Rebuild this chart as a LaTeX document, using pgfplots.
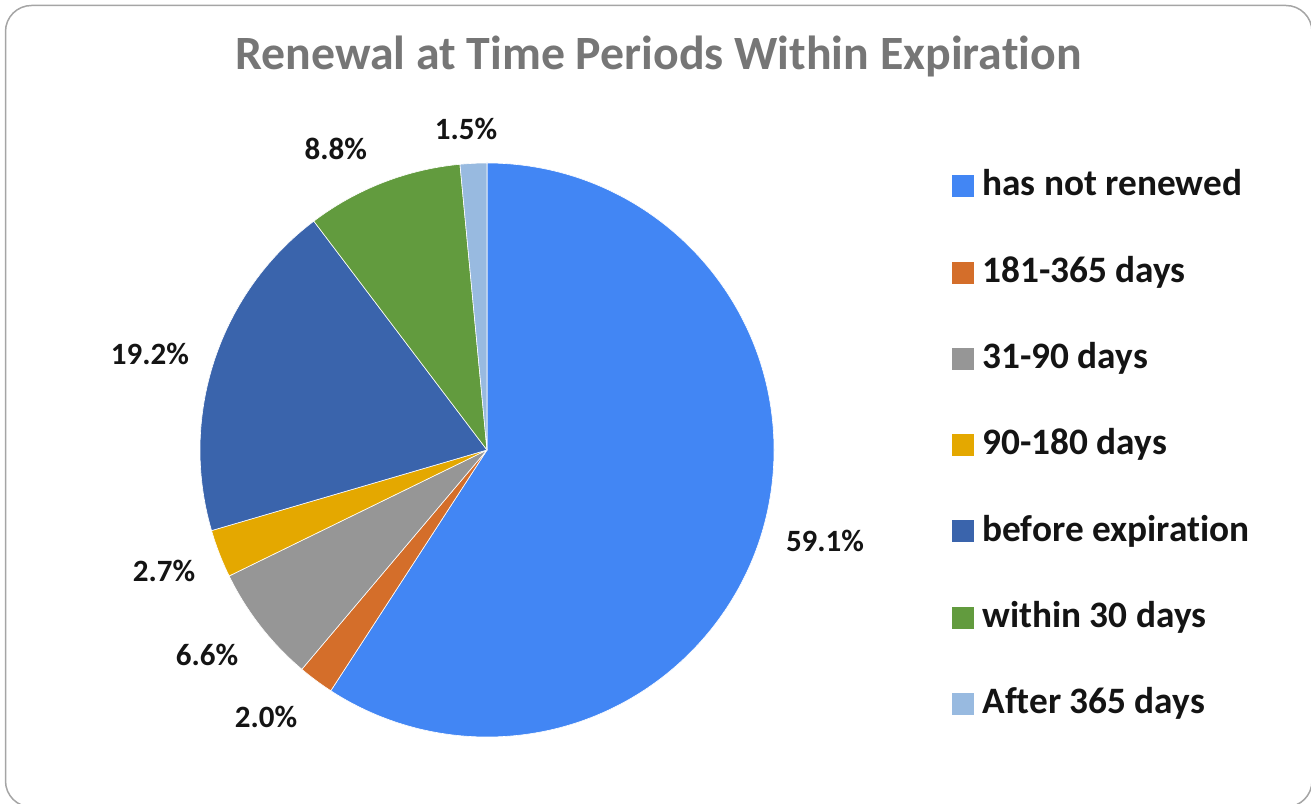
\documentclass[border=0pt]{standalone}
\usepackage{pgfplots}
\pgfplotsset{compat=1.18}
\usepackage{pgfplotstable}
\usepackage{fontspec}
\setmainfont{Carlito}[Ligatures=NoCommon]
\definecolor{cA}{RGB}{66,134,244}
\definecolor{cB}{RGB}{212,110,42}
\definecolor{cC}{RGB}{150,150,150}
\definecolor{cD}{RGB}{228,168,0}
\definecolor{cE}{RGB}{58,100,172}
\definecolor{cF}{RGB}{98,155,62}
\definecolor{cG}{RGB}{152,186,224}
\definecolor{titlegray}{RGB}{118,118,118}
\definecolor{bordergray}{RGB}{165,165,165}
\definecolor{txt}{RGB}{20,20,20}

\pgfplotstableread{
value color lx      ly      lab
59.1  cA    1.1777  -0.3554 59.1
2.0   cB    -0.7700 -0.9652 2.0
6.6   cC    -0.9756 -0.7526 6.6
2.7   cD    -1.1254 -0.4599 2.7
19.2  cE    -1.1742 0.2962  19.2
8.8   cF    -0.5272 1.0139  8.8
1.5   cG    -0.0732 1.0836  1.5
}\piedata

\begin{document}
\begin{tikzpicture}
\path[use as bounding box] (0,0) rectangle (1311bp,804bp);
\draw[bordergray, line width=1.5bp, rounded corners=26bp] (5.5bp,-3bp) rectangle (1312bp,798.5bp);
\begin{axis}[
  at={(200bp,67bp)}, anchor=south west,
  scale only axis, width=574bp, height=574bp,
  xmin=-1, xmax=1, ymin=-1, ymax=1,
  hide axis, clip=false,
  every axis title shift/.style={},
  title={Renewal at Time Periods Within Expiration},
  title style={at={(axis description cs:0.7986,1.1516)}, anchor=base, yshift=0pt,
    font=\fontsize{47.8bp}{47.8bp}\selectfont\bfseries, text=titlegray, inner sep=0pt},
  legend cell align=left,
  legend image code/.code={\fill[#1] (0bp,-10.5bp) rectangle (21bp,10.5bp);},
  legend style={draw=none, fill=none, at={(axis description cs:1.3101,0.9948)},
    anchor=north west, inner sep=0pt, outer sep=0pt, row sep=46.3bp, column sep=9bp,
    font=\fontsize{37.3bp}{37.3bp}\selectfont\bfseries, text=txt,
    nodes={inner sep=0pt, text height=30bp, text depth=10bp}},
]
\addlegendimage{cA}\addlegendentry{has not renewed}
\addlegendimage{cB}\addlegendentry{181-365 days}
\addlegendimage{cC}\addlegendentry{31-90 days}
\addlegendimage{cD}\addlegendentry{90-180 days}
\addlegendimage{cE}\addlegendentry{before expiration}
\addlegendimage{cF}\addlegendentry{within 30 days}
\addlegendimage{cG}\addlegendentry{After 365 days}
\pgfplotsextra{
  \def\total{0}
  \pgfplotsforeachungrouped \i in {0,...,6}{%
    \pgfplotstablegetelem{\i}{value}\of\piedata
    \pgfmathsetmacro\total{\total+\pgfplotsretval}%
  }
  \def\cum{0}
  \pgfplotsforeachungrouped \i in {0,...,6}{%
    \pgfplotstablegetelem{\i}{value}\of\piedata \let\sv\pgfplotsretval
    \pgfplotstablegetelem{\i}{color}\of\piedata \let\slicecol\pgfplotsretval
    \pgfplotstablegetelem{\i}{lx}\of\piedata \let\lx\pgfplotsretval
    \pgfplotstablegetelem{\i}{ly}\of\piedata \let\ly\pgfplotsretval
    \pgfplotstablegetelem{\i}{lab}\of\piedata \let\lab\pgfplotsretval
    \pgfmathsetmacro\sa{90-360*(\cum/\total)}%
    \pgfmathsetmacro\sb{90-360*((\cum+\sv)/\total)}%
    \fill[\slicecol, draw=white, line width=0.6bp, line join=round] (axis cs:0,0) -- ++(\sa:287bp) arc[start angle=\sa, end angle=\sb, radius=287bp] -- cycle;
    \node[anchor=base, inner sep=0pt, text=txt, font=\fontsize{31bp}{31bp}\selectfont\bfseries] at (axis cs:\lx,\ly) {\lab\%};
    \pgfmathsetmacro\cum{\cum+\sv}%
  }
}
\end{axis}
\end{tikzpicture}
\end{document}
